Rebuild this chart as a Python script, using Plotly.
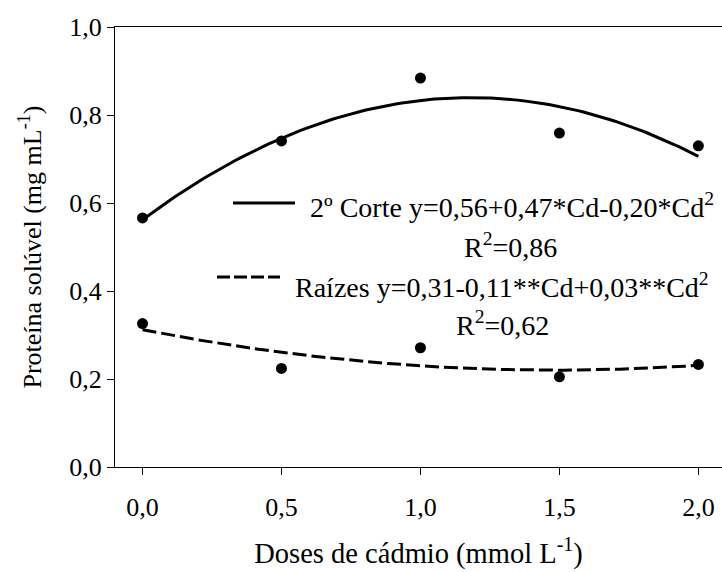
import numpy as np
import plotly.graph_objects as go

# ---- data ----
doses = [0.0, 0.5, 1.0, 1.5, 2.0]
corte = [0.566, 0.741, 0.884, 0.759, 0.730]
raizes = [0.326, 0.224, 0.271, 0.205, 0.233]

# quadratic regression coefficients (a + b*Cd + c*Cd^2)
corte_coef = [0.562, 0.47, -0.199]
raizes_coef = [0.312, -0.1235, 0.0415]

x_tickvals = [0.0, 0.5, 1.0, 1.5, 2.0]
x_ticktext = ["0,0", "0,5", "1,0", "1,5", "2,0"]
y_tickvals = [0.0, 0.2, 0.4, 0.6, 0.8, 1.0]
y_ticktext = ["0,0", "0,2", "0,4", "0,6", "0,8", "1,0"]

legend_corte = "2º Corte y=0,56+0,47*Cd-0,20*Cd<sup>2</sup>"
legend_corte_r2 = "R<sup>2</sup>=0,86"
legend_raizes = "Raízes y=0,31-0,11**Cd+0,03**Cd<sup>2</sup>"
legend_raizes_r2 = "R<sup>2</sup>=0,62"

FONT = "Liberation Serif"
TICK_FS = 26
LEG_FS = 28
XT_FS = 28.5
YT_FS = 26

# ---- layout geometry (pixels) ----
W, H = 722, 572
ML, MR, MT, MB = 115, 0, 27, 105
PW, PH = W - ML - MR, H - MT - MB


def px(x):
    return (x - ML) / PW


def py(y):
    return (H - MB - y) / PH


def quad(c, x):
    return c[0] + c[1] * x + c[2] * x ** 2


xf = np.linspace(doses[0], doses[-1], 121)

fig = go.Figure()
fig.add_trace(go.Scatter(x=xf, y=quad(corte_coef, xf), mode="lines",
                         line=dict(color="black", width=3), showlegend=False,
                         hoverinfo="skip"))
fig.add_trace(go.Scatter(x=xf, y=quad(raizes_coef, xf), mode="lines",
                         line=dict(color="black", width=3, dash="14px,5px"),
                         showlegend=False, hoverinfo="skip"))
fig.add_trace(go.Scatter(x=doses, y=corte, mode="markers",
                         marker=dict(color="black", size=11), showlegend=False))
fig.add_trace(go.Scatter(x=doses, y=raizes, mode="markers",
                         marker=dict(color="black", size=11), showlegend=False))

# legend samples
fig.add_shape(type="line", xref="paper", yref="paper",
              x0=px(233), x1=px(295), y0=py(203), y1=py(203),
              line=dict(color="black", width=3))
fig.add_shape(type="line", xref="paper", yref="paper",
              x0=px(217), x1=px(280), y0=py(277), y1=py(277),
              line=dict(color="black", width=3, dash="13px,4px"))

for txt, cx, cy in [(legend_corte, 512, 205), (legend_corte_r2, 510, 246),
                    (legend_raizes, 501.5, 285), (legend_raizes_r2, 502, 323)]:
    fig.add_annotation(text=txt, xref="paper", yref="paper", x=px(cx), y=py(cy),
                       xanchor="center", yanchor="middle", showarrow=False,
                       font=dict(family=FONT, size=LEG_FS, color="black"))

fig.update_layout(
    width=W, height=H,
    margin=dict(l=ML, r=MR, t=MT, b=MB, pad=0),
    paper_bgcolor="white", plot_bgcolor="white",
    font=dict(family=FONT, size=TICK_FS, color="black"),
    xaxis=dict(range=[-0.099, 2.085], tickvals=x_tickvals, ticktext=x_ticktext,
               showline=True, linecolor="black", linewidth=1.3, mirror=True,
               ticks="outside", ticklen=7, tickwidth=1.3, tickcolor="black",
               ticklabelstandoff=10,
               showgrid=False, zeroline=False,
               title=dict(text="Doses de cádmio (mmol L<sup>-1</sup>)", standoff=21,
                          font=dict(family=FONT, size=XT_FS, color="black"))),
    yaxis=dict(range=[0, 1], tickvals=y_tickvals, ticktext=y_ticktext,
               showline=True, linecolor="black", linewidth=1.3,
               ticks="outside", ticklen=7, tickwidth=1.3, tickcolor="black",
               showgrid=False, zeroline=False,
               title=dict(text="Proteína solúvel (mg mL<sup>-1</sup>)", standoff=20,
                          font=dict(family=FONT, size=YT_FS, color="black"))),
)

fig.write_html("out.html")
